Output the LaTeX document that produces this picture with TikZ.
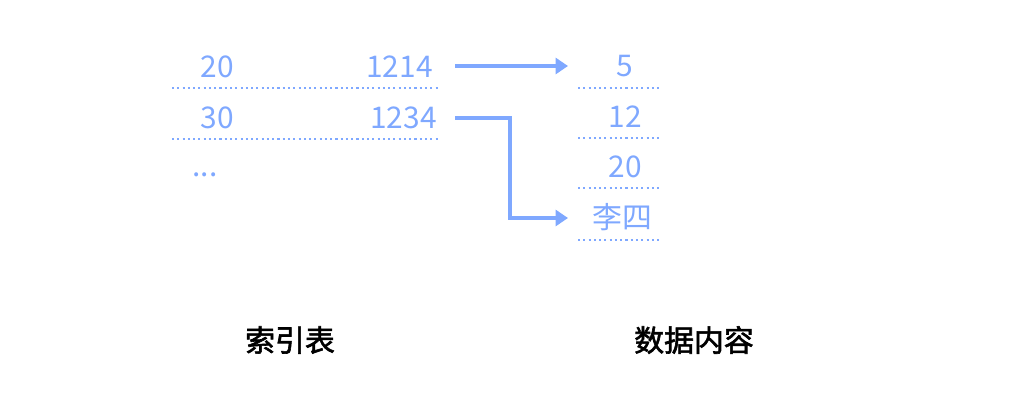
\documentclass[tikz,border=0pt]{standalone}
\usepackage{fontspec}
\setmainfont{Noto Sans CJK SC}
\newfontfamily\cjkb[FakeBold=2]{Noto Sans CJK SC}
\definecolor{bl}{HTML}{7FA8FF}
\tikzset{v/.style={text=bl,font=\fontsize{17}{17}\selectfont,inner sep=0},
 dl/.style={bl,dash pattern=on 1.2pt off 1.8pt,line width=0.6pt},
 ar/.style={bl,line width=1.8pt,-{Triangle[length=7pt,width=9pt]}},
 lab/.style={font=\cjkb\fontsize{17}{17}\selectfont,inner sep=0}}
\usetikzlibrary{arrows.meta}
\begin{document}
\begin{tikzpicture}[x=0.02cm,y=-0.02cm]
\useasboundingbox (0,0) rectangle (1028,400);
\node[v] (a1) at (217,67) {20};
\node[v,anchor=east] (b1) at (433,67) {1214};
\node[v] (a2) at (217,118) {30};
\node[v,anchor=east] (b2) at (437,118) {1234};
\node[v] (dots) at (205,175) {...};
\draw[dl] (172,88) -- (440,88);
\draw[dl] (172,139) -- (440,139);
\node[v] (r1) at (625,66) {5};
\node[v] (r2) at (625,117) {12};
\node[v] (r3) at (625,167) {20};
\node[v] (r4) at (622,217) {李四};
\draw[dl] (578,88) -- (660,88);
\draw[dl] (578,138) -- (660,138);
\draw[dl] (578,188) -- (660,188);
\draw[dl] (578,240) -- (660,240);
\coordinate (s1) at (455,66);
\coordinate (s2) at (455,118);
\coordinate (e1) at (568,66);
\coordinate (e2) at (568,218);
\draw[ar] (s1) -- (e1);
\draw[ar] (s2) -- (510,118) -- (510,218) -- (e2);
\node[lab] (t1) at (290,340) {索引表};
\node[lab] (t2) at (694,340) {数据内容};
\end{tikzpicture}
\end{document}
